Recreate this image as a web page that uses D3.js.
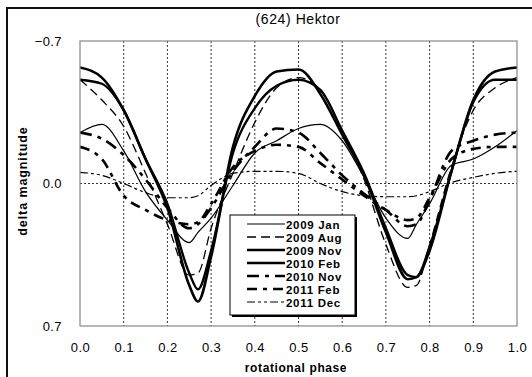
<!DOCTYPE html>
<html>
<head>
<meta charset="utf-8">
<script src="https://cdn.jsdelivr.net/npm/d3@7"></script>
<style>
  body { margin: 0; background: #fff; }
  svg { display: block; font-family: "Liberation Sans", Arial, sans-serif; }
</style>
</head>
<body>
<div id="container"></div>
<script>
/* CONSTANTS AND GLOBALS */
const width = 532,
  height = 377,
  margin = { top: 41, bottom: 51, left: 80, right: 15 };

// rotational phase grid shared by every series
const phase = [0, 0.05, 0.1, 0.15, 0.2, 0.25, 0.27, 0.3, 0.35, 0.4, 0.45, 0.5,
  0.55, 0.6, 0.65, 0.7, 0.75, 0.77, 0.8, 0.85, 0.9, 0.95, 1.0];

// delta magnitude
const jan09 = [-0.25, -0.29, -0.16, 0.04, 0.18, 0.29, 0.24, 0.17, 0.01, -0.15, -0.21, -0.27,
  -0.29, -0.21, -0.03, 0.17, 0.27, 0.2, 0.1, -0.09, -0.12, -0.18, -0.26];
const aug09 = [-0.51, -0.41, -0.28, -0.05, 0.2, 0.45, 0.44, 0.22, -0.05, -0.3, -0.47, -0.52,
  -0.46, -0.26, -0.02, 0.3, 0.51, 0.5, 0.3, -0.08, -0.36, -0.47, -0.52];
const nov09 = [-0.57, -0.52, -0.36, -0.12, 0.12, 0.5, 0.58, 0.36, -0.18, -0.43, -0.55, -0.56,
  -0.44, -0.24, -0.04, 0.24, 0.47, 0.46, 0.33, -0.06, -0.41, -0.55, -0.57];
const feb10 = [-0.51, -0.49, -0.36, -0.12, 0.1, 0.44, 0.52, 0.33, -0.15, -0.37, -0.48, -0.51,
  -0.46, -0.26, -0.05, 0.22, 0.45, 0.46, 0.31, -0.06, -0.4, -0.51, -0.51];
const nov10 = [-0.25, -0.22, -0.14, -0.02, 0.12, 0.22, 0.2, 0.12, -0.06, -0.18, -0.27, -0.25,
  -0.15, -0.04, 0.05, 0.13, 0.21, 0.2, 0.08, -0.16, -0.21, -0.24, -0.25];
const feb11 = [-0.18, -0.12, 0.06, 0.13, 0.18, 0.2, 0.19, 0.1, -0.08, -0.16, -0.19, -0.18,
  -0.1, -0.02, 0.06, 0.13, 0.18, 0.17, 0.07, -0.12, -0.17, -0.18, -0.18];
const dec11 = [-0.055, -0.04, 0.0, 0.045, 0.07, 0.07, 0.06, 0.01, -0.05, -0.06, -0.06, -0.05,
  0.0, 0.04, 0.06, 0.065, 0.065, 0.06, 0.04, -0.005, -0.03, -0.05, -0.06];

const seriesNames = ["2009 Jan", "2009 Aug", "2009 Nov", "2010 Feb", "2010 Nov", "2011 Feb", "2011 Dec"];
const xTicks = [0, 0.1, 0.2, 0.3, 0.4, 0.5, 0.6, 0.7, 0.8, 0.9, 1.0];
const yTicks = [-0.7, 0.0, 0.7];

// line styles per series
const styles = [
  { w: 1.2, dash: null },
  { w: 1.3, dash: "9,5" },
  { w: 2.6, dash: null },
  { w: 2.4, dash: null },
  { w: 2.6, dash: "12,6,4,6" },
  { w: 2.6, dash: "10,6,4,6" },
  { w: 1.2, dash: "8,3,3,3,3,3" }
];

const series = [jan09, aug09, nov09, feb10, nov10, feb11, dec11].map((vals, i) => ({
  name: seriesNames[i],
  style: styles[i],
  points: phase.map((p, j) => ({ p: p, v: vals[j] }))
}));

/* SCALES */
const xScale = d3.scaleLinear().domain([0, 1]).range([margin.left, width - margin.right]);
const yScale = d3.scaleLinear().domain([-0.7, 0.7]).range([margin.top, height - margin.bottom]);

const svg = d3.select("#container")
  .append("svg")
  .attr("width", width)
  .attr("height", height);

// outer frame
svg.append("rect")
  .attr("x", 7).attr("y", 8)
  .attr("width", 560).attr("height", 400)
  .attr("fill", "none")
  .attr("stroke", "#111")
  .attr("stroke-width", 2);

// title
svg.append("text")
  .attr("x", 298).attr("y", 24)
  .attr("text-anchor", "middle")
  .attr("font-size", 14)
  .attr("letter-spacing", 0.6)
  .text("(624) Hektor");

// gridlines
svg.append("g")
  .selectAll("line")
  .data(xTicks.slice(1, -1))
  .join("line")
  .attr("x1", d => xScale(d)).attr("x2", d => xScale(d))
  .attr("y1", yScale(-0.7)).attr("y2", yScale(0.7))
  .attr("stroke", "#333")
  .attr("stroke-width", 1)
  .attr("stroke-dasharray", "2,2");

svg.append("line")
  .attr("x1", xScale(0)).attr("x2", xScale(1))
  .attr("y1", yScale(0)).attr("y2", yScale(0))
  .attr("stroke", "#333")
  .attr("stroke-dasharray", "2,2");

// clip
svg.append("clipPath").attr("id", "plot")
  .append("rect")
  .attr("x", xScale(0)).attr("y", yScale(-0.7))
  .attr("width", xScale(1) - xScale(0))
  .attr("height", yScale(0.7) - yScale(-0.7));

const line = d3.line()
  .x(d => xScale(d.p))
  .y(d => yScale(d.v))
  .curve(d3.curveMonotoneX);

svg.append("g")
  .attr("clip-path", "url(#plot)")
  .selectAll("path")
  .data(series)
  .join("path")
  .attr("d", d => line(d.points))
  .attr("fill", "none")
  .attr("stroke", "#000")
  .attr("stroke-width", d => d.style.w)
  .attr("stroke-dasharray", d => d.style.dash)
  .attr("stroke-linejoin", "round");

// plot frame
svg.append("rect")
  .attr("x", xScale(0)).attr("y", yScale(-0.7))
  .attr("width", xScale(1) - xScale(0))
  .attr("height", yScale(0.7) - yScale(-0.7))
  .attr("fill", "none")
  .attr("stroke", "#888")
  .attr("stroke-width", 1.2);

// axes (labels only, no tick marks)
const xAxis = d3.axisBottom(xScale).tickValues(xTicks).tickSize(0).tickPadding(17)
  .tickFormat(d3.format(".1f"));
const yAxis = d3.axisLeft(yScale).tickValues(yTicks).tickSize(0).tickPadding(18)
  .tickFormat(d => d === 0 ? "0.0" : d3.format(".1f")(d));

svg.append("g")
  .attr("transform", `translate(0, ${height - margin.bottom})`)
  .call(xAxis)
  .call(g => g.select(".domain").remove())
  .selectAll(".tick text")
  .attr("font-size", 13)
  .attr("letter-spacing", 0.4)
  .attr("font-family", "Liberation Sans, Arial, sans-serif")
  .attr("fill", "#000");

svg.append("g")
  .attr("transform", `translate(${margin.left}, 0)`)
  .call(yAxis)
  .call(g => g.select(".domain").remove())
  .selectAll(".tick text")
  .attr("font-size", 13)
  .attr("letter-spacing", 0.4)
  .attr("font-family", "Liberation Sans, Arial, sans-serif")
  .attr("fill", "#000");

// axis titles
svg.append("text")
  .attr("x", 296).attr("y", 372)
  .attr("text-anchor", "middle")
  .attr("font-size", 12)
  .attr("font-weight", "bold")
  .attr("letter-spacing", 0.6)
  .text("rotational phase");

svg.append("text")
  .attr("transform", "rotate(-90)")
  .attr("x", -181).attr("y", 27)
  .attr("text-anchor", "middle")
  .attr("font-size", 12.5)
  .attr("font-weight", "bold")
  .attr("letter-spacing", 0.9)
  .text("delta magnitude");

// legend
const legend = svg.append("g").attr("transform", "translate(230, 215)");
legend.append("rect")
  .attr("x", 2).attr("y", 2).attr("width", 125).attr("height", 100)
  .attr("fill", "#000");
legend.append("rect")
  .attr("width", 125).attr("height", 100)
  .attr("fill", "#fff")
  .attr("stroke", "#000");

const rows = legend.selectAll("g.row")
  .data(series)
  .join("g")
  .attr("class", "row")
  .attr("transform", (d, i) => `translate(0, ${9 + i * 13})`);

rows.append("line")
  .attr("x1", 17).attr("x2", 55)
  .attr("stroke", "#000")
  .attr("stroke-width", d => d.style.w)
  .attr("stroke-dasharray", d => d.style.dash);

rows.append("text")
  .attr("x", 56).attr("y", 4.5)
  .attr("font-size", 11.5)
  .attr("font-weight", "bold")
  .attr("letter-spacing", 0.7)
  .text(d => d.name);
</script>
</body>
</html>
